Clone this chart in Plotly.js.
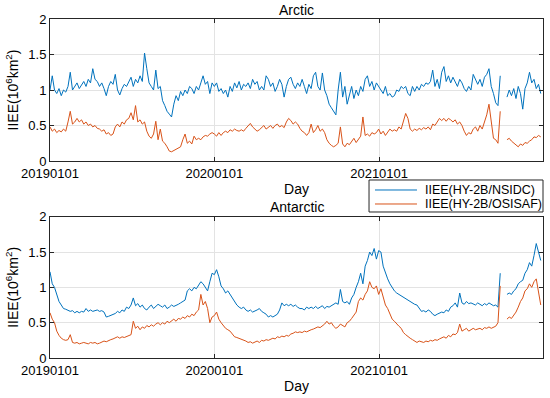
<!DOCTYPE html>
<html>
<head>
<meta charset="utf-8">
<script src="https://cdn.plot.ly/plotly-3.0.1.min.js"></script>
<style>html,body{margin:0;padding:0;background:#fff;}#chart{width:550px;height:398px;}</style>
</head>
<body>
<div id="chart"></div>
<script>
// 5-day samples starting 2019-01-01
var startDate = '2019-01-01';
var stepDays = 5;
var tickDates = ['2019-01-01', '2020-01-01', '2021-01-01'];
var tickLabels = ['20190101', '20200101', '20210101'];
var seriesNames = ['IIEE(HY-2B/NSIDC)', 'IIEE(HY-2B/OSISAF)'];

var arcticNsidc = [
1.0,1.2,1.0,0.95,1.02,0.92,1.0,0.97,1.05,1.25,
1.0,1.05,1.1,1.02,1.08,1.12,1.05,1.15,1.1,1.3,
1.15,1.12,1.05,1.1,1.02,0.92,1.05,1.12,1.08,1.22,
1.0,0.93,1.02,1.08,1.05,1.12,1.18,1.05,1.15,1.1,
1.2,1.12,1.52,1.3,1.1,1.05,1.0,1.28,1.02,1.05,
0.85,0.78,0.7,0.66,0.62,0.8,0.92,0.85,0.98,0.92,
1.0,0.95,1.05,1.02,0.95,1.05,1.0,1.1,1.2,1.08,
1.12,0.95,1.1,
1.05,1.1,0.98,1.02,0.95,1.0,0.9,1.05,0.98,1.1,
1.03,1.12,1.0,1.08,1.05,1.1,1.02,1.15,1.08,1.12,
1.0,1.05,1.0,1.2,1.15,1.05,1.1,0.98,1.05,1.15,
1.08,0.9,1.05,1.15,1.18,1.08,1.02,1.1,1.05,1.15,
1.05,0.95,1.08,1.02,1.2,1.25,1.05,1.0,1.24,1.0,
0.92,0.8,0.75,0.7,0.65,1.0,1.25,0.9,1.05,0.8,
0.95,1.05,0.88,1.0,0.92,1.05,0.98,1.15,1.2,1.05,
1.12,1.0,1.1,1.05,
1.0,0.95,1.05,0.92,0.95,0.9,0.92,1.0,0.98,1.05,
1.02,1.05,0.95,0.92,1.05,0.98,1.05,1.0,1.08,1.05,
1.1,1.08,1.12,1.28,1.05,1.15,1.02,1.25,1.33,1.12,
1.2,1.1,1.18,1.12,1.05,1.15,1.1,1.02,0.98,1.05,
1.0,1.22,1.15,1.08,1.15,1.05,1.18,1.22,1.3,1.05,
0.95,0.82,0.78,1.2,null,null,0.9,1.0,0.92,1.02,
0.88,1.05,0.95,0.73,1.02,1.1,1.25,1.1,1.15,1.02,
1.08,0.95
];

var arcticOsisaf = [
0.48,0.42,0.45,0.4,0.43,0.41,0.45,0.42,0.55,0.7,
0.52,0.55,0.6,0.55,0.58,0.52,0.55,0.5,0.52,0.48,
0.5,0.46,0.45,0.42,0.44,0.38,0.4,0.36,0.38,0.48,
0.52,0.48,0.55,0.52,0.58,0.6,0.68,0.58,0.78,0.55,
0.58,0.52,0.55,0.42,0.35,0.32,0.38,0.56,0.3,0.45,
0.28,0.25,0.2,0.14,0.13,0.15,0.16,0.18,0.2,0.3,
0.38,0.25,0.28,0.24,0.35,0.3,0.32,0.3,0.34,0.36,
0.35,0.38,0.4,
0.38,0.35,0.4,0.36,0.4,0.42,0.4,0.44,0.42,0.45,
0.43,0.42,0.44,0.42,0.46,0.5,0.53,0.48,0.45,0.42,
0.44,0.47,0.5,0.45,0.48,0.5,0.46,0.5,0.52,0.48,
0.5,0.47,0.55,0.6,0.57,0.52,0.55,0.52,0.46,0.42,
0.4,0.36,0.4,0.52,0.4,0.44,0.5,0.42,0.45,0.4,
0.3,0.25,0.22,0.2,0.22,0.25,0.48,0.24,0.2,0.25,
0.23,0.28,0.32,0.26,0.3,0.35,0.62,0.36,0.38,0.35,
0.4,0.38,0.4,0.45,
0.38,0.42,0.36,0.4,0.45,0.42,0.44,0.42,0.48,0.45,
0.55,0.67,0.6,0.45,0.42,0.45,0.43,0.46,0.44,0.47,
0.45,0.48,0.44,0.52,0.5,0.55,0.6,0.57,0.6,0.56,
0.6,0.58,0.55,0.58,0.52,0.55,0.5,0.42,0.36,0.4,
0.38,0.45,0.48,0.42,0.5,0.45,0.55,0.65,0.8,0.55,
0.32,0.3,0.25,0.7,null,null,0.3,0.32,0.28,0.25,
0.22,0.2,0.24,0.22,0.26,0.25,0.28,0.3,0.34,0.33,
0.36,0.34
];

var antarcticNsidc = [
1.22,1.05,1.0,0.9,0.8,0.75,0.7,0.69,0.68,0.66,
0.67,0.64,0.66,0.64,0.66,0.65,0.7,0.66,0.68,0.66,
0.67,0.68,0.66,0.67,0.65,0.58,0.59,0.6,0.61,0.63,
0.66,0.64,0.68,0.66,0.72,0.7,0.75,0.85,0.74,0.77,
0.72,0.75,0.7,0.68,0.72,0.75,0.7,0.73,0.76,0.74,
0.72,0.75,0.7,0.72,0.75,0.73,0.74,0.76,0.78,0.8,
0.82,0.95,0.98,0.95,1.0,0.98,1.03,1.08,1.05,1.0,
0.95,1.08,1.2,
1.18,1.25,1.15,1.02,0.98,0.92,0.95,0.9,0.84,0.8,
0.75,0.72,0.7,0.72,0.68,0.66,0.68,0.65,0.66,0.68,
0.7,0.66,0.64,0.62,0.58,0.6,0.58,0.6,0.62,0.68,
0.78,0.74,0.76,0.74,0.76,0.73,0.75,0.72,0.7,0.7,
0.68,0.72,0.7,0.72,0.7,0.73,0.7,0.72,0.74,0.7,
0.73,0.72,0.74,0.75,0.78,0.76,0.97,0.8,0.78,0.8,
0.76,0.85,0.9,1.0,1.08,1.2,1.05,1.3,1.38,1.5,
1.45,1.55,1.4,1.52,
1.5,1.3,1.2,1.12,1.05,1.0,0.95,0.92,0.9,0.88,
0.85,0.84,0.82,0.8,0.78,0.76,0.75,0.7,0.66,0.67,
0.65,0.68,0.66,0.62,0.6,0.62,0.63,0.65,0.64,0.68,
0.66,0.72,0.74,0.78,0.72,0.92,0.78,0.76,0.8,0.77,
0.78,0.76,0.75,0.78,0.76,0.74,0.77,0.75,0.78,0.76,
0.74,0.75,0.72,1.2,null,null,0.9,0.92,0.9,0.95,
0.98,1.05,1.08,1.1,1.2,1.25,1.35,1.3,1.45,1.62,
1.5,1.38
];

var antarcticOsisaf = [
0.64,0.55,0.5,0.38,0.32,0.28,0.26,0.25,0.26,0.33,
0.22,0.21,0.22,0.2,0.21,0.22,0.21,0.2,0.22,0.21,
0.22,0.2,0.21,0.22,0.24,0.23,0.25,0.26,0.27,0.28,
0.3,0.28,0.3,0.29,0.3,0.31,0.33,0.52,0.42,0.45,
0.4,0.44,0.42,0.46,0.44,0.47,0.45,0.48,0.5,0.47,
0.5,0.48,0.52,0.5,0.53,0.55,0.52,0.56,0.55,0.58,
0.56,0.6,0.58,0.62,0.6,0.65,0.68,0.9,0.75,0.8,
0.7,0.5,0.58,
0.6,0.65,0.55,0.5,0.46,0.42,0.4,0.38,0.34,0.3,
0.29,0.28,0.27,0.25,0.24,0.22,0.23,0.21,0.22,0.24,
0.22,0.25,0.24,0.26,0.25,0.27,0.28,0.27,0.3,0.29,
0.31,0.3,0.32,0.31,0.34,0.35,0.37,0.36,0.37,0.36,
0.38,0.37,0.39,0.4,0.41,0.42,0.44,0.43,0.45,0.48,
0.52,0.48,0.5,0.45,0.42,0.44,0.48,0.46,0.44,0.5,
0.52,0.56,0.6,0.65,0.8,0.85,0.82,0.9,0.95,1.08,
1.0,0.98,1.02,0.9,
0.98,0.85,0.75,0.7,0.62,0.55,0.52,0.48,0.45,0.42,
0.36,0.33,0.3,0.28,0.26,0.24,0.22,0.24,0.23,0.22,
0.24,0.23,0.25,0.24,0.26,0.25,0.27,0.28,0.3,0.28,
0.32,0.3,0.34,0.33,0.36,0.48,0.38,0.4,0.42,0.38,
0.4,0.42,0.4,0.41,0.42,0.4,0.43,0.42,0.44,0.42,
0.43,0.45,0.5,1.02,null,null,0.55,0.58,0.56,0.6,
0.65,0.72,0.8,0.85,0.95,0.98,1.05,1.0,1.08,1.12,
0.92,0.75
];

function makeDates(n) {
  var t0 = Date.UTC(2019, 0, 1);
  var out = [];
  for (var i = 0; i < n; i++) {
    var d = new Date(t0 + i * stepDays * 86400000);
    out.push(d.toISOString().slice(0, 10));
  }
  return out;
}

var BLUE = '#0072BD', ORANGE = '#D95319';
var FONT = 'Arial, "Liberation Sans", Helvetica, sans-serif';
var AX = '#262626';

var traces = [
  {x: makeDates(arcticNsidc.length), y: arcticNsidc, xaxis: 'x', yaxis: 'y', mode: 'lines',
   line: {color: BLUE, width: 1}, name: seriesNames[0], connectgaps: false},
  {x: makeDates(arcticOsisaf.length), y: arcticOsisaf, xaxis: 'x', yaxis: 'y', mode: 'lines',
   line: {color: ORANGE, width: 1}, name: seriesNames[1], connectgaps: false},
  {x: makeDates(antarcticNsidc.length), y: antarcticNsidc, xaxis: 'x2', yaxis: 'y2', mode: 'lines',
   line: {color: BLUE, width: 1}, name: seriesNames[0], connectgaps: false},
  {x: makeDates(antarcticOsisaf.length), y: antarcticOsisaf, xaxis: 'x2', yaxis: 'y2', mode: 'lines',
   line: {color: ORANGE, width: 1}, name: seriesNames[1], connectgaps: false}
];

function xAxis(anchor) {
  return {
    anchor: anchor, domain: [0, 1],
    type: 'date', range: ['2019-01-01', '2021-12-31'],
    tickmode: 'array', tickvals: tickDates, ticktext: tickLabels,
    ticks: 'inside', ticklen: 4, tickcolor: AX, mirror: 'ticks',
    showline: true, linecolor: AX, linewidth: 1,
    showgrid: true, gridcolor: '#e3e3e3', gridwidth: 1, zeroline: false,
    tickfont: {family: FONT, size: 13, color: '#000'},
    title: {text: 'Day', font: {family: FONT, size: 14, color: '#000'}, standoff: 4}
  };
}
function yAxis(anchor, dom) {
  return {
    anchor: anchor, domain: dom, range: [0, 2],
    tickmode: 'array', tickvals: [0, 0.5, 1, 1.5, 2], ticktext: ['0', '0.5', '1', '1.5', '2'],
    ticks: 'inside', ticklen: 4, tickcolor: AX, mirror: 'ticks',
    showline: true, linecolor: AX, linewidth: 1,
    showgrid: true, gridcolor: '#e3e3e3', gridwidth: 1, zeroline: false,
    tickfont: {family: FONT, size: 13, color: '#000'},
    title: {text: 'IIEE(10<sup>6</sup>km<sup>2</sup>)', font: {family: FONT, size: 14, color: '#000'}, standoff: 6}
  };
}

// manual legend box (paper coordinates relative to the plot area)
var legX0 = 0.6471, legX1 = 1.0, legY0 = 0.4307, legY1 = 0.5251;
var legLineX0 = 0.6592, legLineX1 = 0.7444, legTextX = 0.7566;
var legRowY = [0.4956, 0.4543];
var legColors = [BLUE, ORANGE];

var shapes = [
  {type: 'rect', xref: 'paper', yref: 'paper', x0: legX0, x1: legX1, y0: legY0, y1: legY1,
   line: {color: AX, width: 1}, fillcolor: '#fff', layer: 'above'}
];
var annotations = [
  {text: 'Arctic', xref: 'paper', yref: 'paper', x: 0.5, y: 1.0265, xanchor: 'center', yanchor: 'middle',
   showarrow: false, font: {family: FONT, size: 14, color: '#000'}},
  {text: 'Antarctic', xref: 'paper', yref: 'paper', x: 0.5, y: 0.4454, xanchor: 'center', yanchor: 'middle',
   showarrow: false, font: {family: FONT, size: 14, color: '#000'}}
];
for (var r = 0; r < 2; r++) {
  shapes.push({type: 'line', xref: 'paper', yref: 'paper', x0: legLineX0, x1: legLineX1,
    y0: legRowY[r], y1: legRowY[r], line: {color: legColors[r], width: 1}, layer: 'above'});
  annotations.push({text: seriesNames[r], xref: 'paper', yref: 'paper', x: legTextX, y: legRowY[r],
    xanchor: 'left', yanchor: 'middle', showarrow: false,
    font: {family: FONT, size: 12.5, color: '#000'}});
}

var layout = {
  width: 550, height: 398,
  margin: {l: 50, r: 7, t: 19, b: 40},
  paper_bgcolor: '#fff', plot_bgcolor: '#fff',
  font: {family: FONT, size: 13, color: '#000'},
  xaxis: xAxis('y'),
  yaxis: yAxis('x', [0.5811, 1]),
  xaxis2: xAxis('y2'),
  yaxis2: yAxis('x2', [0, 0.4168]),
  showlegend: false,
  shapes: shapes,
  annotations: annotations
};

Plotly.newPlot('chart', traces, layout, {displayModeBar: false, staticPlot: true});
</script>
</body>
</html>
